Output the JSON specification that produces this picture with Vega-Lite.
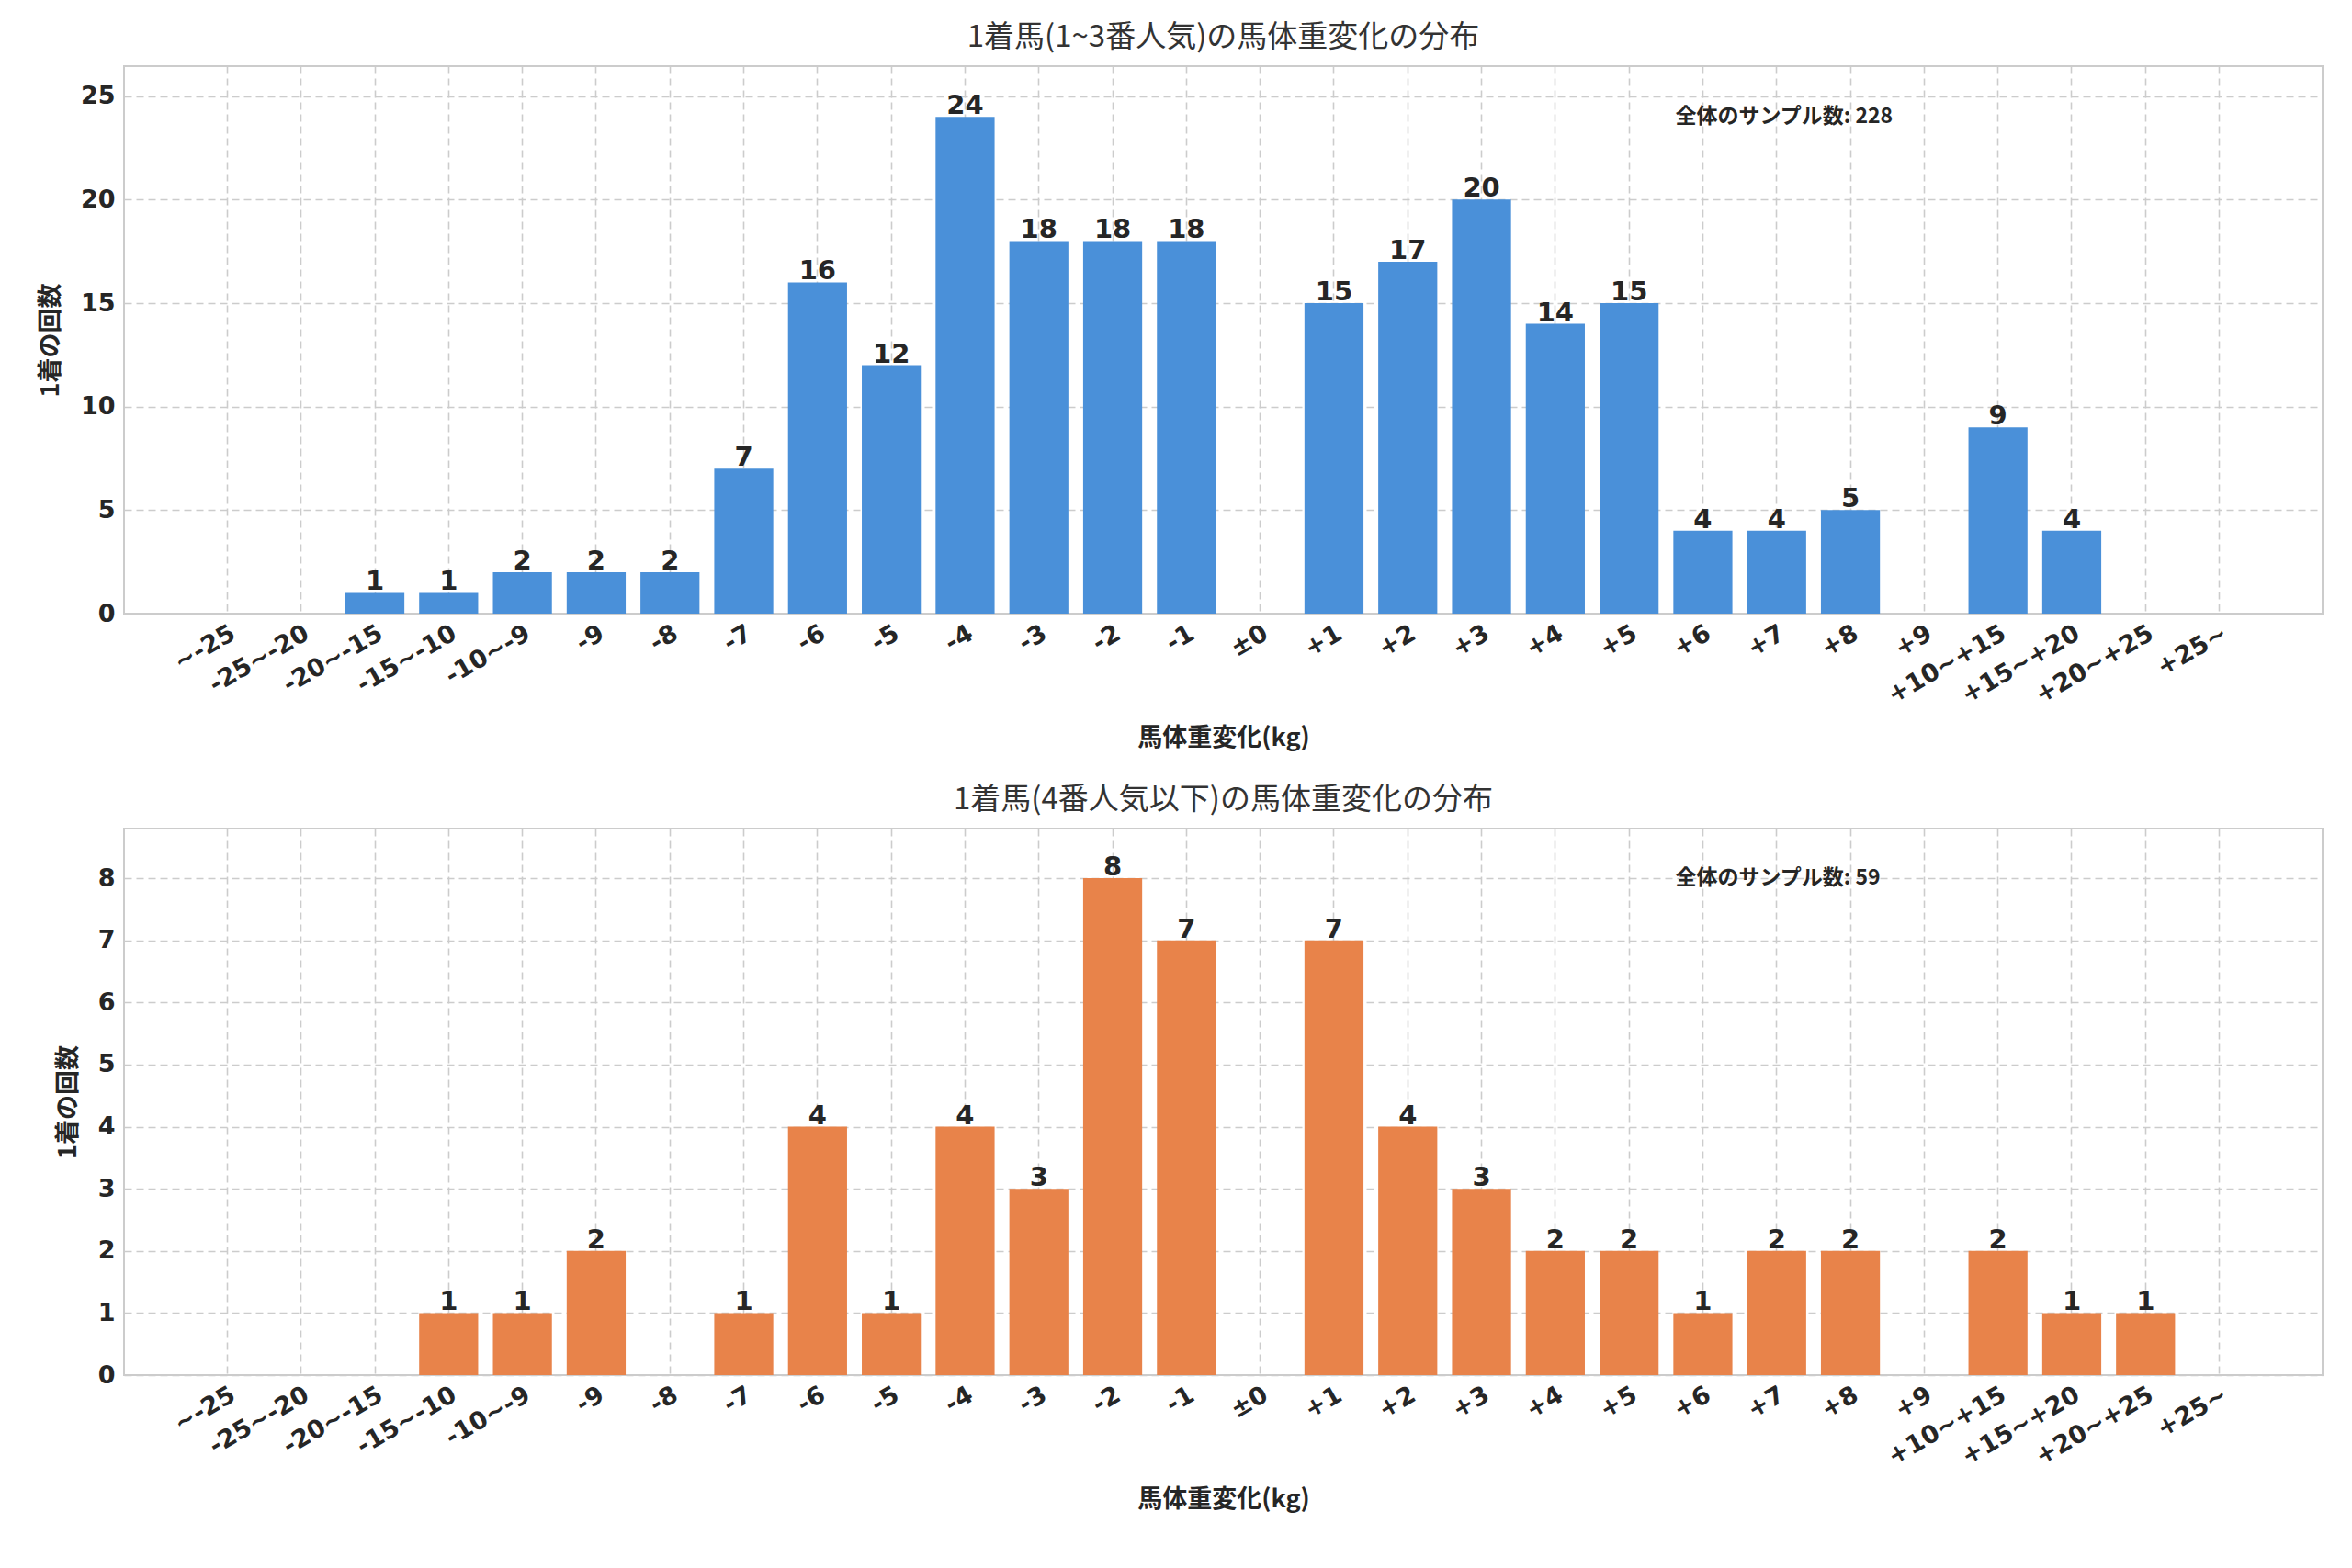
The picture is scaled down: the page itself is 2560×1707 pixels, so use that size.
{
  "$schema": "https://vega.github.io/schema/vega-lite/v6.json",
  "background": "white",
  "padding": {"left": 40, "top": 24, "right": 20, "bottom": 10},
  "spacing": 36,
  "config": {
    "font": "Noto Sans CJK JP",
    "view": {"stroke": "#cccccc", "strokeWidth": 2},
    "title": {"fontSize": 33, "fontWeight": "normal", "color": "#333333", "offset": 14},
    "axis": {
      "labelFont": "DejaVu Sans", "labelFontSize": 27, "labelFontWeight": "bold", "labelColor": "#262626",
      "titleFontSize": 27, "titleFontWeight": "bold", "titleColor": "#262626",
      "gridColor": "#cccccc", "gridDash": [8, 5], "gridWidth": 1.6,
      "domain": false, "ticks": false
    }
  },
  "datasets": {
    "top": [
      {"bin": "~-25", "count": 0}, {"bin": "-25~-20", "count": 0}, {"bin": "-20~-15", "count": 1}, {"bin": "-15~-10", "count": 1},
      {"bin": "-10~-9", "count": 2}, {"bin": "-9", "count": 2}, {"bin": "-8", "count": 2}, {"bin": "-7", "count": 7},
      {"bin": "-6", "count": 16}, {"bin": "-5", "count": 12}, {"bin": "-4", "count": 24}, {"bin": "-3", "count": 18},
      {"bin": "-2", "count": 18}, {"bin": "-1", "count": 18}, {"bin": "±0", "count": 0}, {"bin": "+1", "count": 15},
      {"bin": "+2", "count": 17}, {"bin": "+3", "count": 20}, {"bin": "+4", "count": 14}, {"bin": "+5", "count": 15},
      {"bin": "+6", "count": 4}, {"bin": "+7", "count": 4}, {"bin": "+8", "count": 5}, {"bin": "+9", "count": 0},
      {"bin": "+10~+15", "count": 9}, {"bin": "+15~+20", "count": 4}, {"bin": "+20~+25", "count": 0}, {"bin": "+25~", "count": 0}
    ],
    "bottom": [
      {"bin": "~-25", "count": 0}, {"bin": "-25~-20", "count": 0}, {"bin": "-20~-15", "count": 0}, {"bin": "-15~-10", "count": 1},
      {"bin": "-10~-9", "count": 1}, {"bin": "-9", "count": 2}, {"bin": "-8", "count": 0}, {"bin": "-7", "count": 1},
      {"bin": "-6", "count": 4}, {"bin": "-5", "count": 1}, {"bin": "-4", "count": 4}, {"bin": "-3", "count": 3},
      {"bin": "-2", "count": 8}, {"bin": "-1", "count": 7}, {"bin": "±0", "count": 0}, {"bin": "+1", "count": 7},
      {"bin": "+2", "count": 4}, {"bin": "+3", "count": 3}, {"bin": "+4", "count": 2}, {"bin": "+5", "count": 2},
      {"bin": "+6", "count": 1}, {"bin": "+7", "count": 2}, {"bin": "+8", "count": 2}, {"bin": "+9", "count": 0},
      {"bin": "+10~+15", "count": 2}, {"bin": "+15~+20", "count": 1}, {"bin": "+20~+25", "count": 1}, {"bin": "+25~", "count": 0}
    ]
  },
  "vconcat": [
    {
      "title": "1着馬(1~3番人気)の馬体重変化の分布",
      "width": 2393,
      "height": 596,
      "data": {"name": "top"},
      "encoding": {
        "x": {"field": "bin", "type": "nominal", "sort": null, "title": "馬体重変化(kg)",
              "scale": {"paddingInner": 0.2, "paddingOuter": 1.37},
              "axis": {"labelAngle": -30, "labelAlign": "right", "labelBaseline": "top", "grid": true, "bandPosition": 0.5, "labelPadding": 8, "titlePadding": 20}},
        "y": {"field": "count", "type": "quantitative", "title": "1着の回数",
              "scale": {"domain": [0, 26.45], "nice": false},
              "axis": {"values": [0, 5, 10, 15, 20, 25], "titlePadding": 18, "labelPadding": 10}}
      },
      "layer": [
        {"mark": {"type": "bar", "color": "#4A90D9"}},
        {"transform": [{"filter": "datum.count > 0"}],
         "mark": {"type": "text", "baseline": "bottom", "dy": 3, "font": "DejaVu Sans", "fontSize": 29, "fontWeight": "bold", "color": "#262626"},
         "encoding": {"text": {"field": "count", "type": "quantitative"}}},
        {"data": {"values": [{"bin": "+6", "count": 24, "label": "全体のサンプル数: 228"}]},
         "mark": {"type": "text", "align": "left", "baseline": "middle", "dx": -30, "fontSize": 23, "fontWeight": "bold", "color": "#262626"},
         "encoding": {"text": {"field": "label"}}}
      ]
    },
    {
      "title": "1着馬(4番人気以下)の馬体重変化の分布",
      "width": 2393,
      "height": 595,
      "data": {"name": "bottom"},
      "encoding": {
        "x": {"field": "bin", "type": "nominal", "sort": null, "title": "馬体重変化(kg)",
              "scale": {"paddingInner": 0.2, "paddingOuter": 1.37},
              "axis": {"labelAngle": -30, "labelAlign": "right", "labelBaseline": "top", "grid": true, "bandPosition": 0.5, "labelPadding": 8, "titlePadding": 20}},
        "y": {"field": "count", "type": "quantitative", "title": "1着の回数",
              "scale": {"domain": [0, 8.8], "nice": false},
              "axis": {"values": [0, 1, 2, 3, 4, 5, 6, 7, 8], "titlePadding": 18, "labelPadding": 10}}
      },
      "layer": [
        {"mark": {"type": "bar", "color": "#E8834A"}},
        {"transform": [{"filter": "datum.count > 0"}],
         "mark": {"type": "text", "baseline": "bottom", "dy": 3, "font": "DejaVu Sans", "fontSize": 29, "fontWeight": "bold", "color": "#262626"},
         "encoding": {"text": {"field": "count", "type": "quantitative"}}},
        {"data": {"values": [{"bin": "+6", "count": 8, "label": "全体のサンプル数: 59"}]},
         "mark": {"type": "text", "align": "left", "baseline": "middle", "dx": -30, "fontSize": 23, "fontWeight": "bold", "color": "#262626"},
         "encoding": {"text": {"field": "label"}}}
      ]
    }
  ]
}
